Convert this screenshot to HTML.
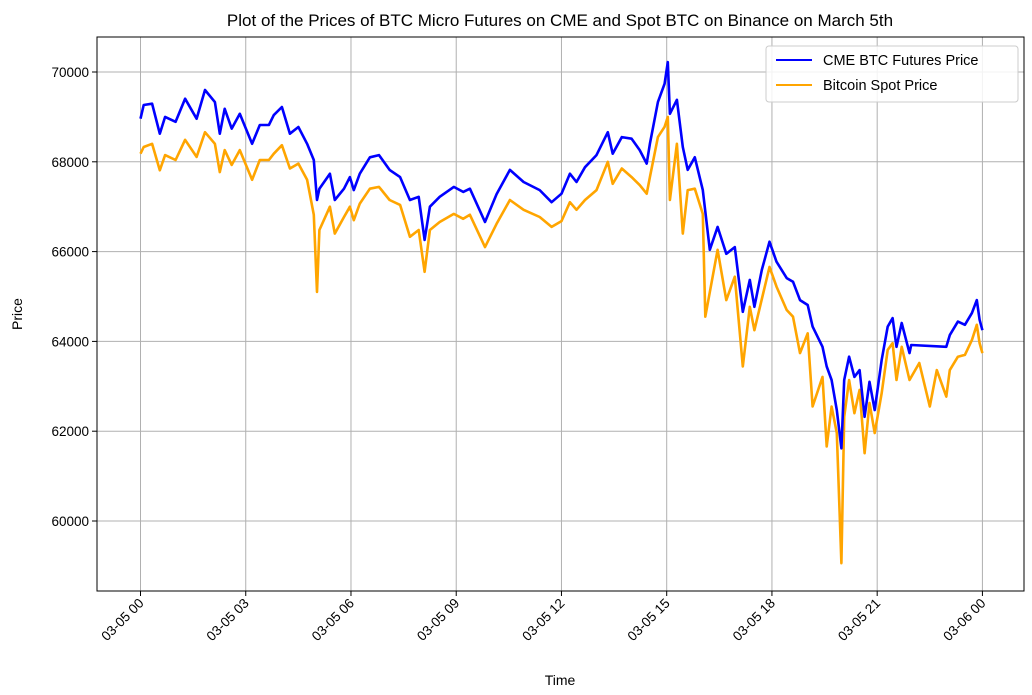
<!DOCTYPE html>
<html><head><meta charset="utf-8"><style>
body{margin:0;background:#fff;}
svg text{font-family:"Liberation Sans","DejaVu Sans",sans-serif;fill:#000;}
</style></head><body>
<svg id="chart" width="1032" height="690" xmlns="http://www.w3.org/2000/svg">
<rect width="1032" height="690" fill="#fff"/>
<text x="560" y="26" font-size="17" text-anchor="middle">Plot of the Prices of BTC Micro Futures on CME and Spot BTC on Binance on March 5th</text>
<g id="grid"></g>
<g id="series"></g>
<rect x="97" y="37" width="927" height="554" fill="none" stroke="#000" stroke-width="1"/>
<g id="ticks"></g>
<text x="22" y="314" font-size="14" text-anchor="middle" transform="rotate(-90 22 314)">Price</text>
<text x="560" y="685" font-size="14" text-anchor="middle">Time</text>
<g>
<rect x="766" y="46" width="252" height="56" rx="3" fill="#fff" fill-opacity="0.85" stroke="#ccc"/>
<line x1="776" y1="60" x2="812" y2="60" stroke="#0000ff" stroke-width="2"/>
<text x="823" y="65" font-size="14.5">CME BTC Futures Price</text>
<line x1="776" y1="85" x2="812" y2="85" stroke="#ffa500" stroke-width="2"/>
<text x="823" y="90" font-size="14.5">Bitcoin Spot Price</text>
</g>
</svg>
<script>
const xTickLabels = ["03-05 00","03-05 03","03-05 06","03-05 09","03-05 12","03-05 15","03-05 18","03-05 21","03-06 00"];
const xTickHours = [0,3,6,9,12,15,18,21,24];
const yTicks = [60000,62000,64000,66000,68000,70000];
const cmeHours = [0,0.09,0.33,0.55,0.7,1.0,1.27,1.6,1.84,2.12,2.26,2.4,2.6,2.83,3.18,3.4,3.66,3.8,4.03,4.26,4.5,4.75,4.94,5.03,5.1,5.4,5.54,5.8,5.97,6.08,6.25,6.54,6.8,7.1,7.4,7.68,7.93,8.1,8.25,8.53,8.93,9.2,9.39,9.82,10.15,10.53,10.92,11.38,11.72,12.0,12.24,12.43,12.67,13.0,13.32,13.46,13.72,14.0,14.23,14.43,14.52,14.75,14.94,15.03,15.09,15.29,15.46,15.6,15.8,16.03,16.23,16.45,16.7,16.94,17.17,17.37,17.5,17.71,17.93,18.13,18.42,18.6,18.8,19.02,19.16,19.44,19.56,19.7,19.85,19.98,20.06,20.2,20.35,20.5,20.64,20.78,20.93,21.13,21.3,21.44,21.55,21.7,21.92,21.97,22.97,23.07,23.3,23.5,23.7,23.84,23.92,24.0];
const cmePrices = [68960,69265,69295,68625,69000,68890,69405,68960,69600,69330,68625,69180,68740,69070,68400,68820,68820,69040,69220,68625,68775,68400,68040,67150,67400,67735,67150,67400,67660,67370,67735,68100,68150,67820,67660,67150,67220,66260,67000,67220,67440,67330,67400,66660,67280,67820,67550,67370,67100,67290,67735,67550,67880,68150,68660,68180,68550,68515,68260,67960,68400,69330,69740,70220,69070,69380,68330,67820,68100,67370,66040,66550,65950,66100,64660,65370,64770,65590,66220,65775,65410,65330,64920,64810,64330,63880,63440,63140,62470,61620,63140,63660,63210,63360,62320,63100,62470,63590,64330,64520,63880,64410,63740,63920,63880,64140,64440,64370,64630,64920,64480,64250];
const spotHours = [0,0.09,0.33,0.55,0.7,1.0,1.27,1.6,1.84,2.12,2.26,2.4,2.6,2.83,3.18,3.4,3.66,3.8,4.03,4.26,4.5,4.75,4.94,5.03,5.1,5.4,5.54,5.8,5.97,6.08,6.25,6.54,6.8,7.1,7.4,7.68,7.93,8.1,8.25,8.53,8.93,9.2,9.39,9.82,10.15,10.53,10.92,11.38,11.72,12.0,12.24,12.43,12.67,13.0,13.32,13.46,13.72,14.0,14.23,14.43,14.52,14.75,14.94,15.03,15.09,15.29,15.46,15.6,15.8,16.03,16.1,16.45,16.7,16.94,17.17,17.37,17.5,17.93,18.13,18.42,18.6,18.8,19.02,19.16,19.44,19.56,19.7,19.85,19.98,20.06,20.2,20.35,20.5,20.64,20.78,20.93,21.13,21.3,21.44,21.55,21.7,21.92,22.2,22.5,22.7,22.97,23.07,23.3,23.5,23.7,23.84,23.92,24.0];
const spotPrices = [68180,68330,68400,67810,68150,68040,68490,68110,68660,68400,67770,68260,67930,68260,67600,68040,68040,68180,68370,67850,67960,67600,66820,65100,66480,67000,66400,66770,67000,66700,67070,67400,67440,67150,67040,66330,66480,65550,66480,66660,66840,66730,66820,66100,66620,67150,66930,66770,66550,66680,67100,66930,67150,67370,68000,67510,67850,67660,67480,67290,67660,68550,68780,69000,67150,68400,66400,67370,67400,66840,64550,66040,64920,65440,63440,64770,64250,65660,65220,64700,64550,63740,64180,62550,63210,61660,62550,61960,59060,62320,63140,62400,62920,61510,62630,61960,62850,63810,63960,63140,63880,63140,63520,62550,63360,62770,63360,63660,63700,64030,64370,63960,63740];

const X0=140.5, XPH=35.08, Y70=72, YP1000=44.9;
function sx(h){return X0+h*XPH;}
function sy(p){return Y70+(70000-p)/1000*YP1000;}
const NS="http://www.w3.org/2000/svg";
const grid=document.getElementById('grid'), ticks=document.getElementById('ticks'), series=document.getElementById('series');
function mk(tag,attrs,parent){const e=document.createElementNS(NS,tag);for(const k in attrs)e.setAttribute(k,attrs[k]);parent.appendChild(e);return e;}
xTickHours.forEach((h,i)=>{
  const x=sx(h);
  const g=mk('line',{x1:x,y1:37,x2:x,y2:591,stroke:'#b0b0b0','stroke-width':1},grid);
  
  
  const t=mk('line',{x1:x,y1:591,x2:x,y2:596,stroke:'#000'},ticks);
  
  
  const lb=mk('text',{x:x+4,y:604,'font-size':13.5,'text-anchor':'end',transform:`rotate(-45 ${x+4} 604)`},ticks);
  lb.textContent=xTickLabels[i];
  
  
});
yTicks.forEach(p=>{
  const y=sy(p);
  const g=mk('line',{x1:97,y1:y,x2:1024,y2:y,stroke:'#b0b0b0','stroke-width':1},grid);
  
  
  const t=mk('line',{x1:92,y1:y,x2:97,y2:y,stroke:'#000'},ticks);
  
  
  const lb=mk('text',{x:89,y:y+5,'font-size':13.5,'text-anchor':'end'},ticks);
  lb.textContent=String(p);
  
  
});
function line(hs,ps,color,name){
  const d=hs.map((h,i)=>(i?'L':'M')+sx(h).toFixed(1)+' '+sy(ps[i]).toFixed(1)).join(' ');
  const p=mk('path',{d:d,fill:'none',stroke:color,'stroke-width':2.6,'stroke-linejoin':'round'},series);
  
  
}
line(spotHours,spotPrices,'#ffa500','spot-price-line');
line(cmeHours,cmePrices,'#0000ff','cme-futures-line');
</script>
</body></html>
